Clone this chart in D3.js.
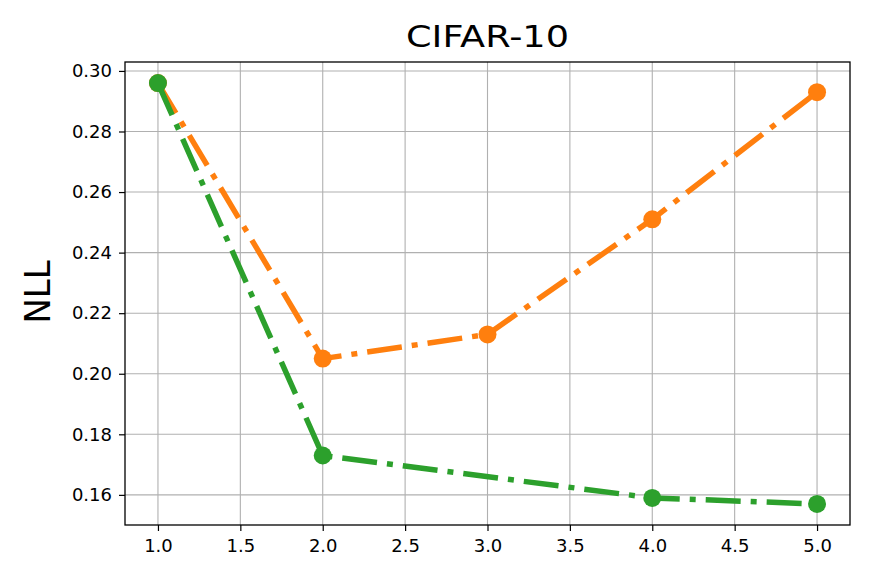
<!DOCTYPE html>
<html><head>
<meta charset="utf-8">
<script src="https://d3js.org/d3.v7.min.js"></script>
<style>
  body { margin: 0; background: #fff; }
  text { font-family: "DejaVu Sans", sans-serif; fill: #000; }
  line.grid { stroke: #b0b0b0; stroke-width: 1.1px; }
</style>
</head>
<body>
<svg id="chart" width="872" height="581"></svg>
<script>
// data
const steps = [1, 2, 3, 4, 5];
const orangeNLL = [0.296, 0.205, 0.213, 0.251, 0.293];
const greenSteps = [1, 2, 4, 5];
const greenNLL = [0.296, 0.173, 0.159, 0.157];
const xTicks = [1.0, 1.5, 2.0, 2.5, 3.0, 3.5, 4.0, 4.5, 5.0];
const yTicks = [0.16, 0.18, 0.20, 0.22, 0.24, 0.26, 0.28, 0.30];

const svg = d3.select("#chart");
const mLeft = 125, mRight = 850, mTop = 62, mBottom = 525;

const x = d3.scaleLinear().domain([0.8, 5.2]).range([mLeft, mRight]);
const y = d3.scaleLinear().domain([0.15005, 0.30295]).range([mBottom, mTop]);

// grid
svg.append("g").selectAll("line.gx").data(xTicks).join("line")
   .attr("class", "grid")
   .attr("x1", d => x(d)).attr("x2", d => x(d))
   .attr("y1", mTop).attr("y2", mBottom);
svg.append("g").selectAll("line.gy").data(yTicks).join("line")
   .attr("class", "grid")
   .attr("x1", mLeft).attr("x2", mRight)
   .attr("y1", d => y(d)).attr("y2", d => y(d));

// axes
const xAxis = d3.axisBottom(x).tickValues(xTicks).tickFormat(d3.format(".1f")).tickSize(6).tickPadding(8);
const yAxis = d3.axisLeft(y).tickValues(yTicks).tickFormat(d3.format(".2f")).tickSize(6).tickPadding(7);

const gx = svg.append("g").attr("transform", "translate(0," + mBottom + ")").call(xAxis);
const gy = svg.append("g").attr("transform", "translate(" + mLeft + ",0)").call(yAxis);
[gx, gy].forEach(g => {
  g.select(".domain").remove();
  g.selectAll(".tick line").attr("stroke", "#000").attr("stroke-width", 1.2);
  g.selectAll(".tick text").style("font-size", "18px").style("font-family", "DejaVu Sans");
});

// frame
svg.append("rect")
   .attr("x", mLeft).attr("y", mTop)
   .attr("width", mRight - mLeft).attr("height", mBottom - mTop)
   .attr("fill", "none").attr("stroke", "#000").attr("stroke-width", 1.3);

// series
const line = d3.line().x(d => x(d[0])).y(d => y(d[1]));
const series = [
  {color: "#ff7f0e", pts: d3.zip(steps, orangeNLL)},
  {color: "#2ca02c", pts: d3.zip(greenSteps, greenNLL)}
];
series.forEach(s => {
  svg.append("path")
     .attr("d", line(s.pts))
     .attr("fill", "none")
     .attr("stroke", s.color)
     .attr("stroke-width", 5.5)
     .attr("stroke-dasharray", "35,10,6,10");
  svg.append("g").selectAll("circle").data(s.pts).join("circle")
     .attr("cx", d => x(d[0])).attr("cy", d => y(d[1]))
     .attr("r", 9).attr("fill", s.color);
});

// title and label
svg.append("text")
   .attr("x", (mLeft + mRight) / 2).attr("y", 47)
   .attr("text-anchor", "middle")
   .attr("textLength", 163).attr("lengthAdjust", "spacingAndGlyphs")
   .style("font-size", "31px")
   .text("CIFAR-10");

svg.append("text")
   .attr("transform", "translate(50,292) rotate(-90)")
   .attr("text-anchor", "middle")
   .attr("textLength", 63).attr("lengthAdjust", "spacingAndGlyphs")
   .style("font-size", "36px")
   .text("NLL");
</script>
</body>
</html>
